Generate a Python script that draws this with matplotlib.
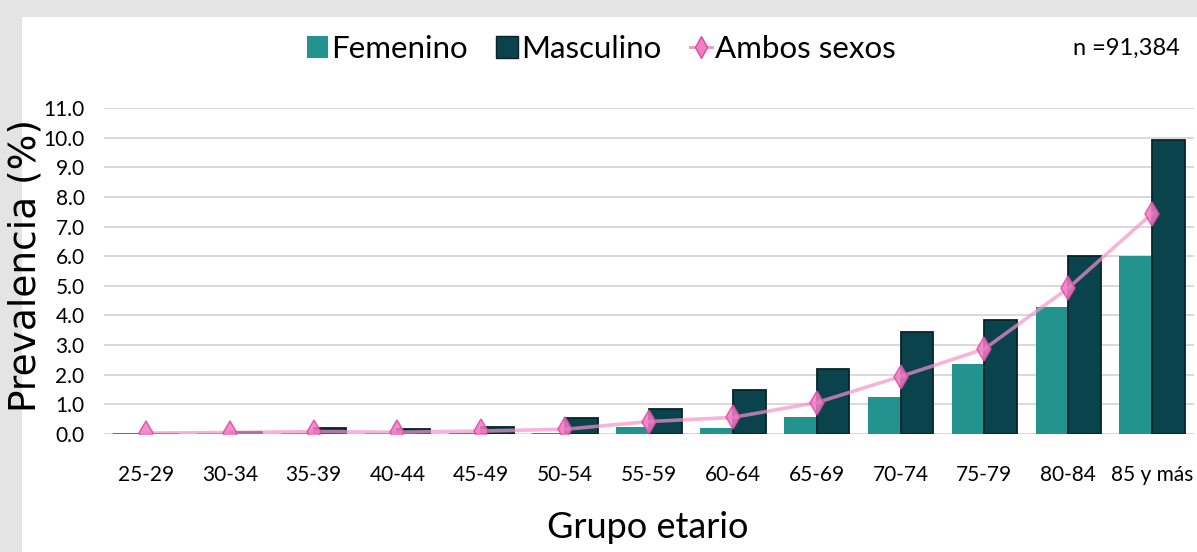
import matplotlib
matplotlib.use("Agg")
import matplotlib.pyplot as plt
from matplotlib import font_manager
from matplotlib.patches import Patch, Rectangle
from matplotlib.lines import Line2D
import numpy as np

# datos
grupos = ['25-29', '30-34', '35-39', '40-44', '45-49', '50-54', '55-59',
          '60-64', '65-69', '70-74', '75-79', '80-84', '85 y más']
femenino = [0.03, 0.03, 0.05, 0.04, 0.05, 0.05, 0.23, 0.19, 0.56, 1.24, 2.36, 4.29, 6.00]
masculino = [0.01, 0.06, 0.21, 0.17, 0.22, 0.55, 0.84, 1.49, 2.18, 3.45, 3.83, 6.00, 9.93]
ambos = [0.03, 0.05, 0.08, 0.06, 0.10, 0.16, 0.42, 0.56, 1.06, 1.94, 2.87, 4.92, 7.44]
yticks = np.arange(0, 11.5, 1.0)

# fuente estrecha parecida a Calibri, si existe
installed = set(f.name for f in font_manager.fontManager.ttflist)
narrow = 'DejaVu Sans'
for name in ['Liberation Sans Narrow', 'DejaVu Sans Condensed', 'Lato', 'Open Sans']:
    if name in installed:
        narrow = name
        break
plt.rcParams['font.family'] = [narrow, 'DejaVu Sans']

fig = plt.figure(figsize=(11.97, 5.52), dpi=100, facecolor='#e4e4e4')
# zona blanca (el resto imita el borde gris de la captura)
fig.patches.append(Rectangle((22/1197, 0), 1, (552-17)/552, transform=fig.transFigure,
                             facecolor='white', edgecolor='none', zorder=-10))

ax = fig.add_axes([104/1197, (552-434)/552, 1090/1197, 326/552])
ax.set_facecolor('white')

x = np.arange(len(grupos))
w = 0.39
ax.bar(x - w/2, femenino, w, color='#23938f', edgecolor='none', zorder=2, label='Femenino')
ax.bar(x + w/2, masculino, w, color='#0b434d', edgecolor='#06242a', linewidth=1.3,
       zorder=2, label='Masculino')
ax.plot(x, ambos, color='#f394cb', lw=2.6, alpha=0.7, zorder=3)
ax.plot(x, ambos, linestyle='none', marker='d', markersize=12.5, markerfacecolor='#f27cc6',
        markeredgecolor='#dd4aa2', markeredgewidth=1.1, alpha=0.85, zorder=4)

ax.set_xlim(-0.5, len(grupos) - 0.5)
ax.set_ylim(0, 11)
ax.set_yticks(yticks)
ax.set_yticklabels(['%.1f' % v for v in yticks], fontsize=15)
ax.set_xticks(x)
ax.set_xticklabels(grupos, fontsize=15)
ax.tick_params(axis='both', length=0)
ax.tick_params(axis='y', pad=14)
ax.tick_params(axis='x', pad=22)
ax.yaxis.grid(True, color='#d9d9d9', lw=1.4, zorder=0)
ax.set_axisbelow(True)
for s in ax.spines.values():
    s.set_visible(False)

ax.set_ylabel('Prevalencia (%)', fontsize=27, family='DejaVu Sans')
ax.yaxis.set_label_coords((44 - 104) / 1090, (434 - 266) / 326)
ax.set_xlabel('Grupo etario', fontsize=26)
ax.xaxis.set_label_coords((648 - 104) / 1090, (434 - 511) / 326)

handles = [Patch(facecolor='#23938f', edgecolor='none'),
           Patch(facecolor='#0b434d', edgecolor='#06242a'),
           Line2D([0], [0], color='#f394cb', lw=2, marker='d', markersize=11,
                  markerfacecolor='#f27cc6', markeredgecolor='#dd4aa2')]
fig.legend(handles, ['Femenino', 'Masculino', 'Ambos sexos'], loc='center',
           bbox_to_anchor=(601/1197, 1 - 49/552), ncol=3, frameon=False, fontsize=22.5,
           handlelength=0.7, handleheight=0.7, handletextpad=0.1, columnspacing=0.9)
fig.text(1180/1197, 1 - 48/552, 'n =91,384', ha='right', va='center', fontsize=17)

fig.savefig('out.png', dpi=100, facecolor=fig.get_facecolor())
